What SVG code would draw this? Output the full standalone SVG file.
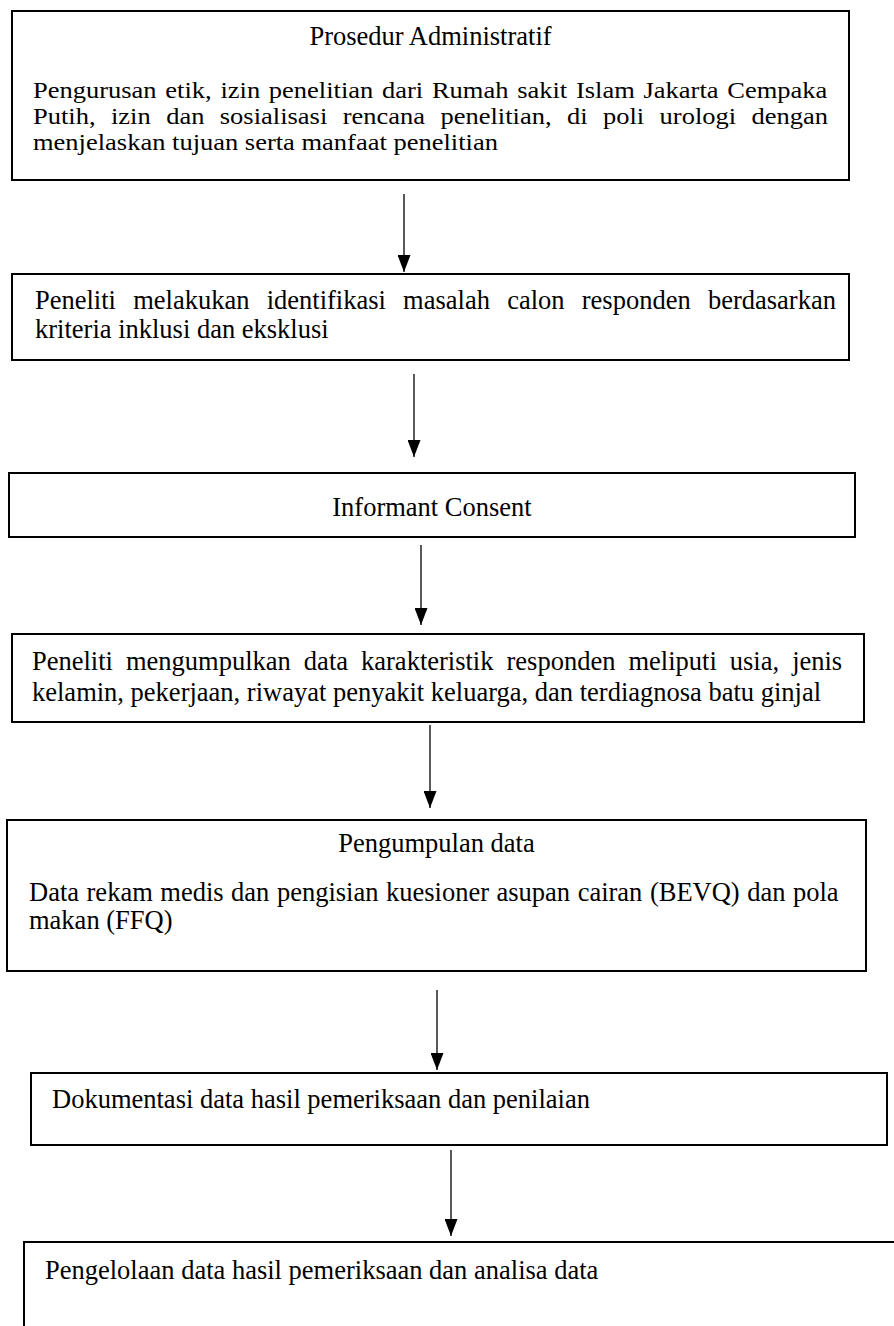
<svg xmlns="http://www.w3.org/2000/svg" width="894" height="1326" viewBox="0 0 894 1326">
<style>
.bg{fill:#fff}
.box{fill:#fff;stroke:#000;stroke-width:2}
.t{font-family:"Liberation Serif","Times New Roman",serif;font-size:26.5px;fill:#000}
.c{text-anchor:middle}
.conn line{stroke:#000;stroke-width:1.3;marker-end:url(#ah)}
</style>
<defs>
<marker id="ah" markerUnits="userSpaceOnUse" markerWidth="17" markerHeight="13" viewBox="0 0 17 13" refX="17" refY="6.5" orient="auto">
<path d="M0,0 L17,6.5 L0,13 Z" fill="#000"/>
</marker>
</defs>
<rect class="bg" x="0" y="0" width="894" height="1326"/>
<g id="connectors" class="conn">
<line x1="404" y1="194" x2="404" y2="272"/>
<line x1="414" y1="374" x2="414" y2="457"/>
<line x1="421" y1="545" x2="421" y2="625"/>
<line x1="430" y1="725" x2="430" y2="808"/>
<line x1="437" y1="990" x2="437" y2="1070"/>
<line x1="451" y1="1150" x2="451" y2="1236"/>
</g>
<g id="n1">
<rect class="box" x="12" y="11" width="837" height="169"/>
<text class="t c" x="430.5" y="45">Prosedur Administratif</text>
<text class="t" transform="translate(33,98) scale(1,0.88)" word-spacing="2.1">Pengurusan etik, izin penelitian dari Rumah sakit Islam Jakarta Cempaka</text>
<text class="t" transform="translate(33,124) scale(1,0.88)" word-spacing="8.8">Putih, izin dan sosialisasi rencana penelitian, di poli urologi dengan</text>
<text class="t" transform="translate(33,150) scale(1,0.88)">menjelaskan tujuan serta manfaat penelitian</text>
</g>
<g id="n2">
<rect class="box" x="12" y="274" width="837" height="86"/>
<text class="t" x="35" y="309" word-spacing="10.6">Peneliti melakukan identifikasi masalah calon responden berdasarkan</text>
<text class="t" x="35" y="338">kriteria inklusi dan eksklusi</text>
</g>
<g id="n3">
<rect class="box" x="9" y="473" width="846" height="64"/>
<text class="t c" x="432" y="516">Informant Consent</text>
</g>
<g id="n4">
<rect class="box" x="12" y="634" width="852" height="88"/>
<text class="t" x="32" y="670" word-spacing="6.4">Peneliti mengumpulkan data karakteristik responden meliputi usia, jenis</text>
<text class="t" x="32" y="701">kelamin, pekerjaan, riwayat penyakit keluarga, dan terdiagnosa batu ginjal</text>
</g>
<g id="n5">
<rect class="box" x="7" y="820" width="859" height="151"/>
<text class="t c" x="436.5" y="852">Pengumpulan data</text>
<text class="t" x="29" y="901" word-spacing="0.9">Data rekam medis dan pengisian kuesioner asupan cairan (BEVQ) dan pola</text>
<text class="t" x="29" y="929">makan (FFQ)</text>
</g>
<g id="n6">
<rect class="box" x="31" y="1073" width="856" height="72"/>
<text class="t" x="52" y="1108">Dokumentasi data hasil pemeriksaan dan penilaian</text>
</g>
<g id="n7">
<rect class="box" x="24" y="1242" width="880" height="100"/>
<text class="t" x="45" y="1279">Pengelolaan data hasil pemeriksaan dan analisa data</text>
</g>
</svg>
